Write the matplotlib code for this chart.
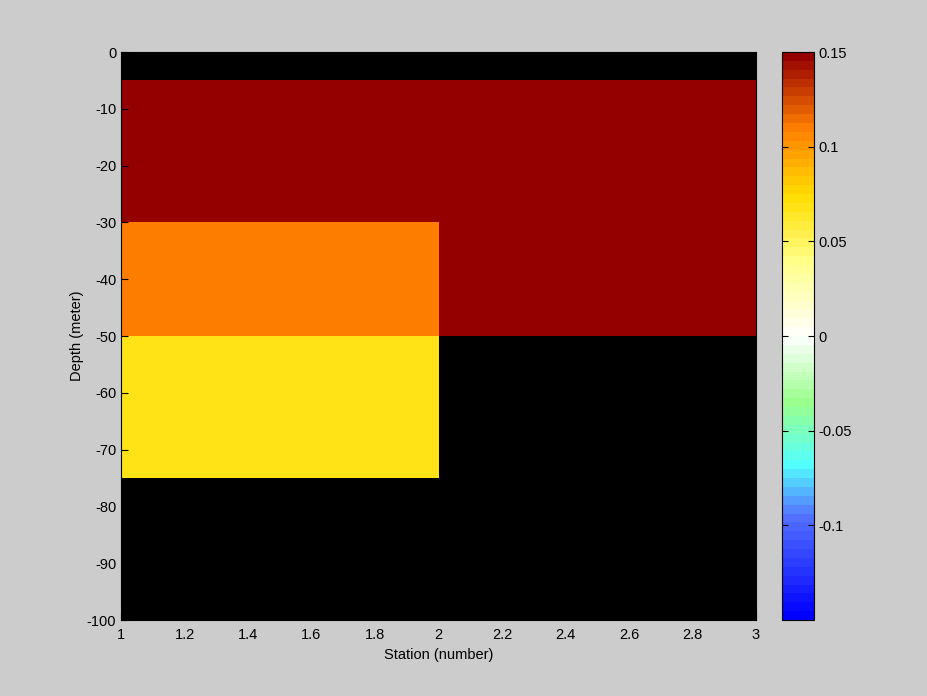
import numpy as np
import matplotlib
matplotlib.use("Agg")
import matplotlib.pyplot as plt
from matplotlib.colors import LinearSegmentedColormap

plt.rcParams["axes.unicode_minus"] = False
plt.rcParams["font.family"] = ["Liberation Sans", "DejaVu Sans"]

stations = [1, 2, 3]
depth_edges = [0, -5, -30, -50, -75, -100]
# values per cell (rows: depth layers top->bottom, cols: station intervals)
values = [
    [np.nan, np.nan],
    [0.15, 0.15],
    [0.11, 0.15],
    [0.07, np.nan],
    [np.nan, np.nan],
]
clim = (-0.15, 0.15)

cmap = LinearSegmentedColormap.from_list(
    "bwr_custom",
    [
        (0.00, (0.0, 0.0, 1.0)),
        (0.18, (0.33, 0.45, 1.0)),
        (0.27, (0.33, 1.0, 1.0)),
        (0.38, (0.60, 1.0, 0.55)),
        (0.50, (1.0, 1.0, 1.0)),
        (0.63, (1.0, 1.0, 0.55)),
        (0.75, (1.0, 0.87, 0.0)),
        (0.87, (1.0, 0.50, 0.0)),
        (1.00, (0.58, 0.0, 0.0)),
    ],
    N=64,
)

fs = 10.5
bg = (0.8, 0.8, 0.8)
fig = plt.figure(figsize=(9.28, 6.96), dpi=100, facecolor=bg)
ax = fig.add_axes([121/928, 76/696, 635/928, 568/696])
ax.set_facecolor("black")
data = np.ma.masked_invalid(np.array(values))
X, Y = np.meshgrid(stations, depth_edges)
mesh = ax.pcolormesh(X, Y, data, cmap=cmap, vmin=clim[0], vmax=clim[1], shading="flat")
ax.set_xlim(1, 3)
ax.set_ylim(-100, 0)
ax.set_xticks(np.arange(1, 3.01, 0.2))
ax.set_xticklabels(["1", "1.2", "1.4", "1.6", "1.8", "2", "2.2", "2.4", "2.6", "2.8", "3"])
ax.set_yticks(np.arange(-100, 1, 10))
ax.tick_params(direction="in", length=5, labelsize=fs, colors="black")
ax.tick_params(axis="x", pad=6)
ax.set_xlabel("Station (number)", fontsize=fs, labelpad=4)
ax.set_ylabel("Depth (meter)", fontsize=fs, labelpad=2)
for s in ax.spines.values():
    s.set_color("black")

cax = fig.add_axes([782/928, 76/696, 32/928, 568/696])
cb = fig.colorbar(mesh, cax=cax)
cb.set_ticks([-0.1, -0.05, 0, 0.05, 0.1, 0.15])
cb.set_ticklabels(["-0.1", "-0.05", "0", "0.05", "0.1", "0.15"])
cax.tick_params(direction="in", length=4, labelsize=fs, left=True, right=True)
cb.outline.set_edgecolor("black")

fig.savefig("out.png", dpi=100, facecolor=bg)
